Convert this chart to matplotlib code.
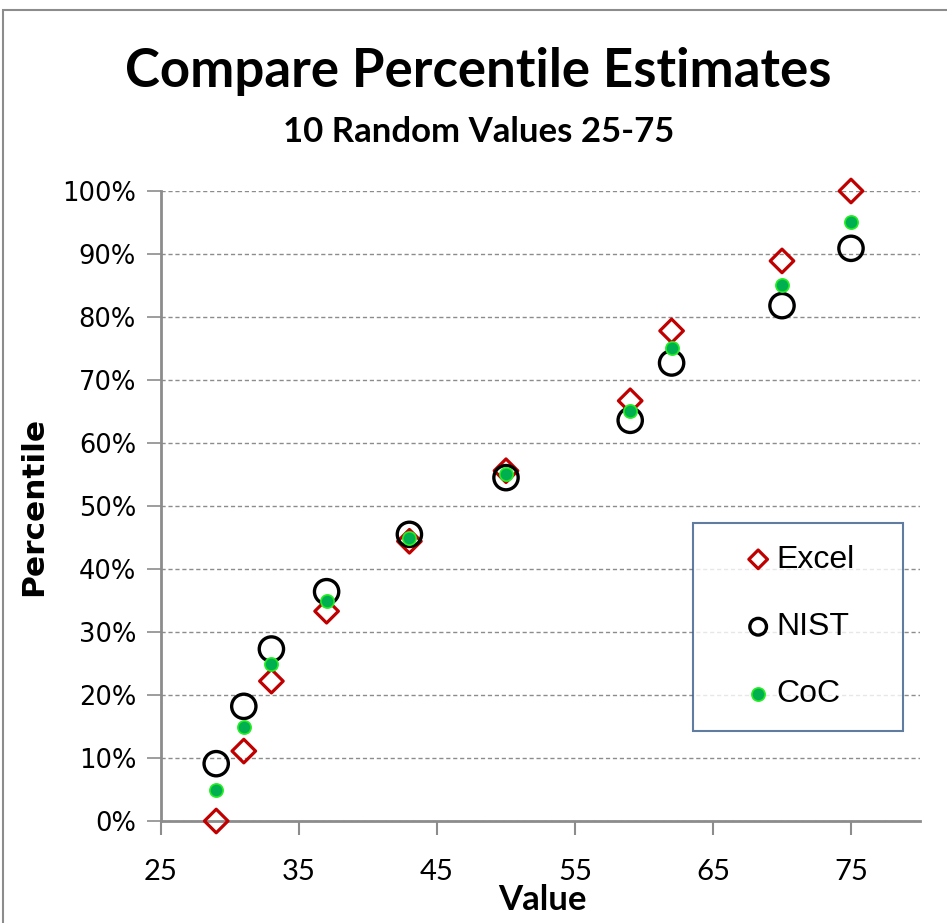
import matplotlib
matplotlib.use("Agg")
import matplotlib.pyplot as plt
from matplotlib.patches import Rectangle
from matplotlib.ticker import FuncFormatter, MultipleLocator

# Sorted sample of ten random values between 25 and 75
values = [29, 31, 33, 37, 43, 50, 59, 62, 70, 75]
# Percentile estimates (fractions) for each method
excel = [0.0, 0.111, 0.222, 0.333, 0.444, 0.556, 0.667, 0.778, 0.889, 1.0]
nist = [0.091, 0.182, 0.273, 0.364, 0.455, 0.545, 0.636, 0.727, 0.818, 0.909]
coc = [0.05, 0.15, 0.25, 0.35, 0.45, 0.55, 0.65, 0.75, 0.85, 0.95]

x_ticks = [25, 35, 45, 55, 65, 75]

calib = ["Lato", "DejaVu Sans"]
arial = ["Liberation Sans", "DejaVu Sans"]

W, H = 947, 923
fig = plt.figure(figsize=(W / 100, H / 100), dpi=100)
fig.patch.set_facecolor("white")

# outer chart border
fig.add_artist(Rectangle((3 / W, -0.05), 1.2, (H - 10) / H + 0.05,
                         transform=fig.transFigure, fill=False,
                         edgecolor="#8c8c8c", linewidth=1.5))

ax = fig.add_axes([161 / W, (H - 821) / H, 759 / W, 630 / H])

ax.scatter(values, excel, marker="D", s=12 ** 2, facecolors="none",
           edgecolors="#C00000", linewidths=2.3, label="Excel", zorder=3,
           clip_on=False)
ax.scatter(values, nist, marker="o", s=17.5 ** 2, facecolors="none",
           edgecolors="black", linewidths=2.4, label="NIST", zorder=3,
           clip_on=False)
ax.scatter(values, coc, marker="o", s=9.5 ** 2, facecolors="#00B050",
           edgecolors="#22EE22", linewidths=1.2, label="CoC", zorder=4,
           clip_on=False)

ax.set_xlim(25, 80)
ax.set_ylim(0, 1.0)
ax.set_xticks(x_ticks)
ax.yaxis.set_major_locator(MultipleLocator(0.1))
ax.yaxis.set_major_formatter(FuncFormatter(lambda v, p: f"{v * 100:.0f}%"))

ax.grid(axis="y", linestyle=(0, (3, 2)), color="#8c8c8c", linewidth=1.0)
ax.set_axisbelow(True)

for side in ("top", "right"):
    ax.spines[side].set_visible(False)
for side in ("left", "bottom"):
    ax.spines[side].set_color("#8c8c8c")
    ax.spines[side].set_linewidth(2.0)

ax.tick_params(axis="x", direction="out", length=10, width=1.5,
               color="#8c8c8c", pad=17, labelsize=21)
ax.tick_params(axis="y", direction="out", length=10, width=1.2,
               color="#8c8c8c", pad=8, labelsize=18.5)
for lbl in ax.get_xticklabels():
    lbl.set_family(calib)
for lbl in ax.get_yticklabels():
    lbl.set_family("DejaVu Sans")

ax.set_xlabel("Value", family=calib, fontsize=25, fontweight="bold")
ax.xaxis.set_label_coords(0.502, (821 - 910) / 630)
ax.xaxis.label.set_verticalalignment("baseline")
ax.set_ylabel("Percentile", family="DejaVu Sans", fontsize=22.5,
              fontweight="bold", labelpad=10)

fig.text(0.505, 1 - 87 / H, "Compare Percentile Estimates", ha="center",
         va="baseline", family=calib, fontsize=38, fontweight="bold")
fig.text(0.505, 1 - 142 / H, "10 Random Values 25-75", ha="center",
         va="baseline", family=calib, fontsize=25, fontweight="bold")

# legend box spans x 693-903, y 523-730 in pixel terms
fs = 23
leg = ax.legend(loc="upper left",
                bbox_to_anchor=((693 - 161) / 759, (821 - 523) / 630 - 1.0,
                                210 / 759, 1.0),
                mode="expand", frameon=True, fancybox=False,
                prop={"family": arial, "size": fs},
                borderpad=0.68, borderaxespad=0.0,
                handlelength=2.72, handletextpad=-0.78,
                labelspacing=1.17, scatterpoints=1)
leg.get_frame().set_edgecolor("#385D8A")
leg.get_frame().set_linewidth(1.5)
leg.set_zorder(5)
leg_sizes = [9.5 ** 2, 12 ** 2, 9.5 ** 2]
leg_lw = [2.3, 2.4, 1.2]
for h, s, lw in zip(leg.legend_handles, leg_sizes, leg_lw):
    h.set_sizes([s])
    h.set_linewidths([lw])

fig.savefig("out.png", dpi=100, facecolor="white")
